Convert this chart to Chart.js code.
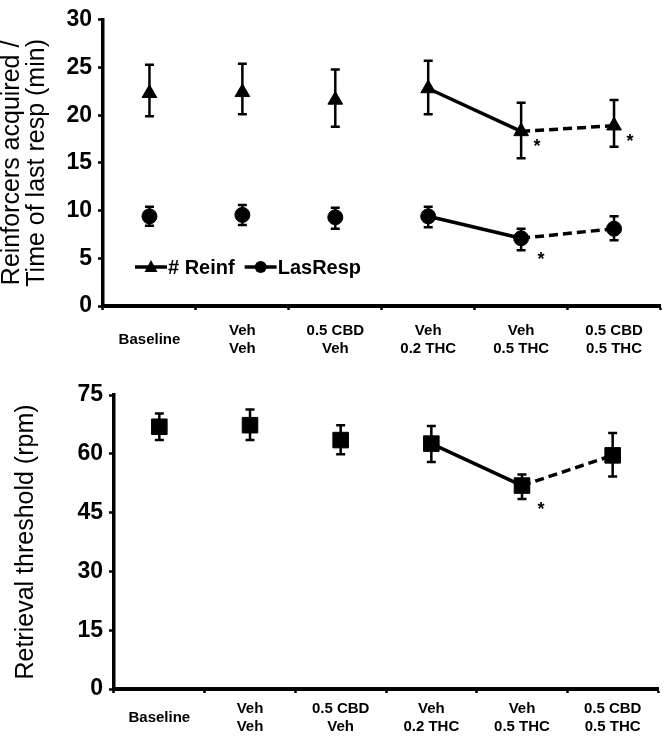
<!DOCTYPE html>
<html><head><meta charset="utf-8">
<script src="https://cdn.jsdelivr.net/npm/chart.js@4/dist/chart.umd.min.js"></script>
<style>
html,body{margin:0;padding:0;background:#fff;}
#w1{position:absolute;left:0;top:0;width:670px;height:360px;}
#w2{position:absolute;left:0;top:360px;width:670px;height:376px;}
</style></head><body>
<div id="w1"><canvas id="c1"></canvas></div>
<div id="w2"><canvas id="c2"></canvas></div>
<script>
// ---- data ----
const categories = ['Baseline', ['Veh','Veh'], ['0.5 CBD','Veh'], ['Veh','0.2 THC'], ['Veh','0.5 THC'], ['0.5 CBD','0.5 THC']];
const reinfMean   = [22.3, 22.4, 21.6, 22.8, 18.3, 18.9];
const reinfUpper  = [25.3, 25.4, 24.8, 25.7, 21.3, 21.6];
const reinfLower  = [19.9, 20.1, 18.8, 20.1, 15.5, 16.7];
const lasRespMean  = [9.4, 9.55, 9.3, 9.4, 7.1, 8.1];
const lasRespUpper = [10.4, 10.6, 10.3, 10.4, 8.1, 9.4];
const lasRespLower = [8.4, 8.5, 8.1, 8.25, 5.85, 6.9];
const thresholdMean  = [66.9, 67.3, 63.5, 62.6, 51.9, 59.6];
const thresholdUpper = [70.3, 71.3, 67.3, 67.1, 54.7, 65.3];
const thresholdLower = [63.5, 63.5, 59.9, 57.9, 48.5, 54.2];
const topTicks = [0, 5, 10, 15, 20, 25, 30];
const bottomTicks = [0, 15, 30, 45, 60, 75];
const reinfSig = [4, 5];
const lasRespSig = [4];
const thresholdSig = [4];
const legendLabels = ['# Reinf', 'LasResp'];

// ---- styling ----
const FF = "'Liberation Sans', Arial, sans-serif";
const BLACK = '#000';

const segmentStyle = {
  borderColor: c => c.p0DataIndex >= 3 ? BLACK : 'rgba(0,0,0,0)',
  borderDash: c => c.p0DataIndex === 4 ? [9, 5] : []
};

function seriesDS(label, data, up, lo, style, radius, sig, off) {
  return {
    label, data, errUpper: up, errLower: lo, sig, sigOffset: off,
    borderColor: BLACK, borderWidth: 3.5, backgroundColor: BLACK,
    pointStyle: style, pointRadius: radius, pointBackgroundColor: BLACK,
    pointBorderColor: BLACK, pointBorderWidth: 1, pointHoverRadius: radius,
    segment: segmentStyle, fill: false, tension: 0
  };
}

const errorBars = {
  id: 'errorBars',
  beforeDatasetsDraw(chart) {
    const ctx = chart.ctx, y = chart.scales.y;
    chart.data.datasets.forEach((ds, di) => {
      if (!ds.errUpper) return;
      chart.getDatasetMeta(di).data.forEach((pt, i) => {
        const x = pt.x, yt = y.getPixelForValue(ds.errUpper[i]), yb = y.getPixelForValue(ds.errLower[i]);
        ctx.save();
        ctx.strokeStyle = BLACK; ctx.lineWidth = 2.5;
        ctx.beginPath();
        ctx.moveTo(x, yt); ctx.lineTo(x, yb);
        ctx.moveTo(x - 4.5, yt); ctx.lineTo(x + 4.5, yt);
        ctx.moveTo(x - 4.5, yb); ctx.lineTo(x + 4.5, yb);
        ctx.stroke();
        ctx.restore();
      });
    });
  }
};

const asterisks = {
  id: 'asterisks',
  afterDatasetsDraw(chart) {
    const ctx = chart.ctx;
    chart.data.datasets.forEach((ds, di) => {
      if (!ds.sig) return;
      const meta = chart.getDatasetMeta(di);
      ds.sig.forEach(i => {
        const pt = meta.data[i];
        ctx.save();
        ctx.fillStyle = BLACK;
        ctx.font = "bold 18px " + FF;
        ctx.textAlign = 'center';
        ctx.textBaseline = 'alphabetic';
        ctx.fillText('*', pt.x + ds.sigOffset.dx, pt.y + ds.sigOffset.dy + 9);
        ctx.restore();
      });
    });
  }
};

const insideLegend = {
  id: 'insideLegend',
  afterDraw(chart) {
    const ctx = chart.ctx, a = chart.chartArea;
    const yc = a.bottom - 39;
    let x = a.left + 32;
    ctx.save();
    ctx.font = "bold 20px " + FF;
    ctx.textBaseline = 'middle';
    ctx.fillStyle = BLACK; ctx.strokeStyle = BLACK;
    const styles = ['triangle', 'circle'];
    legendLabels.forEach((txt, k) => {
      const len = 32;
      ctx.lineWidth = 3.5;
      ctx.beginPath(); ctx.moveTo(x, yc); ctx.lineTo(x + len, yc); ctx.stroke();
      const mx = x + len / 2;
      if (styles[k] === 'triangle') {
        ctx.beginPath();
        ctx.moveTo(mx, yc - 7); ctx.lineTo(mx + 6.5, yc + 5); ctx.lineTo(mx - 6.5, yc + 5); ctx.closePath(); ctx.fill();
      } else {
        ctx.beginPath(); ctx.arc(mx, yc, 6, 0, Math.PI * 2); ctx.fill();
      }
      x += len + 1;
      ctx.fillText(txt, x, yc + 1);
      x += ctx.measureText(txt).width + 10;
    });
    ctx.restore();
  }
};

function xScale(height, pad) {
  return {
    type: 'category', offset: true,
    grid: { offset: true, drawOnChartArea: false, drawTicks: true, tickLength: 4, tickWidth: 2.5, tickColor: BLACK },
    border: { display: true, color: BLACK, width: 4 },
    ticks: {
      autoSkip: false, maxRotation: 0, minRotation: 0, padding: pad, color: BLACK,
      font: c => ({ family: FF, size: 15, weight: 'bold', lineHeight: (c.index === 0 ? 36 : 18) + 'px' })
    },
    afterFit: s => { s.height = height; }
  };
}

function yScale(max, ticks, width, title, titlePad) {
  return {
    min: 0, max: max,
    afterBuildTicks: s => { s.ticks = ticks.map(v => ({ value: v })); },
    grid: { drawOnChartArea: false, drawTicks: true, tickLength: 5, tickWidth: 2.5, tickColor: BLACK },
    border: { display: true, color: BLACK, width: 3.5 },
    ticks: { padding: 6, color: BLACK, font: { family: FF, size: 23, weight: 'bold' } },
    title: { display: true, text: title, color: BLACK, padding: { top: titlePad, bottom: 0 },
             font: { family: FF, size: 25, weight: 'normal', lineHeight: '25px' } },
    afterFit: s => { s.width = width; }
  };
}

new Chart(document.getElementById('c1'), {
  type: 'line',
  data: {
    labels: categories,
    datasets: [
      seriesDS(legendLabels[0], reinfMean, reinfUpper, reinfLower, 'triangle', 8.5, reinfSig, { dx: 16, dy: 12 }),
      seriesDS(legendLabels[1], lasRespMean, lasRespUpper, lasRespLower, 'circle', 7.5, lasRespSig, { dx: 20, dy: 18 })
    ]
  },
  options: {
    responsive: true, maintainAspectRatio: false, animation: false,
    layout: { padding: { top: 14, right: 3, left: 0, bottom: 0 } },
    plugins: { legend: { display: false }, tooltip: { enabled: false } },
    scales: {
      x: xScale(54, 12),
      y: yScale(30, topTicks, 103, ['Reinforcers acquired /', 'Time of last resp (min)'], 0)
    }
  },
  plugins: [errorBars, asterisks, insideLegend]
});

new Chart(document.getElementById('c2'), {
  type: 'line',
  data: {
    labels: categories,
    datasets: [
      seriesDS('Retrieval threshold', thresholdMean, thresholdUpper, thresholdLower, 'rect', 11, thresholdSig, { dx: 19, dy: 20 })
    ]
  },
  options: {
    responsive: true, maintainAspectRatio: false, animation: false,
    layout: { padding: { top: 35, right: 3, left: 0, bottom: 0 } },
    plugins: { legend: { display: false }, tooltip: { enabled: false } },
    scales: {
      x: xScale(47, 7),
      y: yScale(75, bottomTicks, 114, 'Retrieval threshold (rpm)', 14)
    }
  },
  plugins: [errorBars, asterisks]
});
</script>
</body></html>
